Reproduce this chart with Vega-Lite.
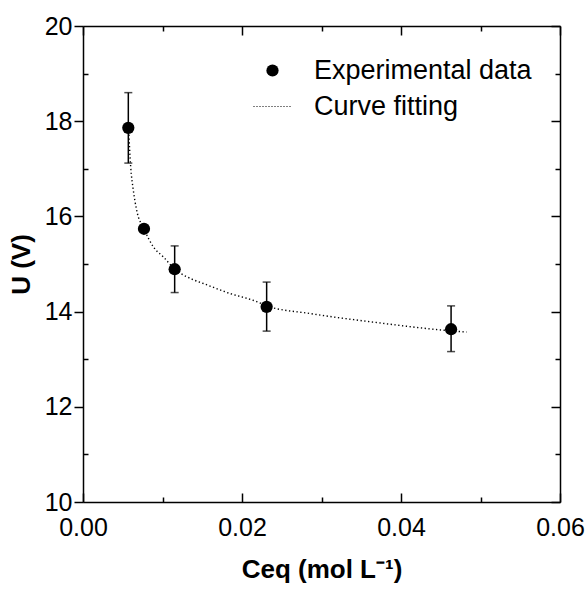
{
  "$schema": "https://vega.github.io/schema/vega-lite/v6.json",
  "width": 477,
  "height": 476,
  "autosize": {"type": "none"},
  "padding": {"left": 83, "top": 26, "right": 26, "bottom": 87},
  "background": "white",
  "config": {
    "view": {"stroke": null},
    "font": "Liberation Sans",
    "axis": {"grid": false, "labelFlush": false, "labelOverlap": false, "domainColor": "black", "domainWidth": 1.5, "tickColor": "black", "tickWidth": 1.5, "labelColor": "black", "labelFont": "Liberation Sans", "labelFontSize": 25, "titleColor": "black", "titleFont": "Liberation Sans", "titleFontWeight": "bold", "titleFontSize": 26}
  },
  "datasets": {
    "curve": [
      {"c": 0.00575, "u": 17.80, "series": "Curve fitting"},
      {"c": 0.0060, "u": 17.04, "series": "Curve fitting"},
      {"c": 0.00633, "u": 16.55, "series": "Curve fitting"},
      {"c": 0.00675, "u": 16.13, "series": "Curve fitting"},
      {"c": 0.00767, "u": 15.74, "series": "Curve fitting"},
      {"c": 0.00885, "u": 15.36, "series": "Curve fitting"},
      {"c": 0.0101, "u": 15.15, "series": "Curve fitting"},
      {"c": 0.01157, "u": 14.89, "series": "Curve fitting"},
      {"c": 0.01387, "u": 14.67, "series": "Curve fitting"},
      {"c": 0.01514, "u": 14.59, "series": "Curve fitting"},
      {"c": 0.01849, "u": 14.38, "series": "Curve fitting"},
      {"c": 0.02185, "u": 14.21, "series": "Curve fitting"},
      {"c": 0.0231, "u": 14.12, "series": "Curve fitting"},
      {"c": 0.02855, "u": 13.96, "series": "Curve fitting"},
      {"c": 0.03694, "u": 13.77, "series": "Curve fitting"},
      {"c": 0.04532, "u": 13.61, "series": "Curve fitting"},
      {"c": 0.04826, "u": 13.57, "series": "Curve fitting"}
    ],
    "points": [
      {"c": 0.0057, "u": 17.86, "lo": 17.12, "hi": 18.60, "series": "Experimental data"},
      {"c": 0.00767, "u": 15.74, "lo": 15.69, "hi": 15.79, "series": "Experimental data"},
      {"c": 0.01153, "u": 14.89, "lo": 14.40, "hi": 15.38, "series": "Experimental data"},
      {"c": 0.0231, "u": 14.10, "lo": 13.59, "hi": 14.62, "series": "Experimental data"},
      {"c": 0.0463, "u": 13.63, "lo": 13.16, "hi": 14.12, "series": "Experimental data"}
    ]
  },
  "resolve": {"axis": {"x": "independent", "y": "independent"}},
  "layer": [
    {
      "data": {"name": "curve"},
      "mark": {"type": "line", "interpolate": "monotone", "strokeDash": [1.3, 2.5], "strokeWidth": 1.4, "color": "black"},
      "encoding": {
        "x": {"field": "c", "type": "quantitative", "scale": {"domain": [0, 0.06], "nice": false, "zero": false},
              "axis": {"orient": "bottom", "values": [0, 0.02, 0.04, 0.06], "format": ".2f", "tickSize": -9, "labelPadding": 22, "title": "Ceq (mol L⁻¹)", "titlePadding": 16}},
        "y": {"field": "u", "type": "quantitative", "scale": {"domain": [10, 20], "nice": false, "zero": false},
              "axis": {"orient": "left", "values": [10, 12, 14, 16, 18, 20], "format": "d", "tickSize": 9, "labelPadding": 2, "title": "U (V)", "titlePadding": 10}},
        "color": {"field": "series", "type": "nominal",
                  "scale": {"domain": ["Experimental data", "Curve fitting"], "range": ["black", "black"]},
                  "legend": {"title": null, "orient": "none", "legendX": 176, "legendY": 31, "padding": 0, "labelFont": "Liberation Sans", "labelFontSize": 27, "labelColor": "black", "symbolSize": 1444, "rowPadding": 8, "labelOffset": 28, "labelLimit": 400,
                             "encode": {"symbols": {"update": {
                               "shape": {"signal": "datum.value === 'Curve fitting' ? 'stroke' : 'circle'"},
                               "fill": {"signal": "datum.value === 'Curve fitting' ? 'transparent' : 'black'"},
                               "stroke": {"value": "black"},
                               "strokeDash": {"signal": "datum.value === 'Curve fitting' ? [1, 2] : [1, 0]"},
                               "strokeWidth": {"signal": "datum.value === 'Curve fitting' ? 1 : 0"},
                               "size": {"signal": "datum.value === 'Curve fitting' ? 1444 : 150"},
                               "opacity": {"value": 1}
                             }}}}}
      }
    },
    {
      "data": {"name": "points"},
      "mark": {"type": "rule", "color": "black", "strokeWidth": 1.5},
      "encoding": {
        "x": {"field": "c", "type": "quantitative",
              "axis": {"orient": "bottom", "values": [0.01, 0.03, 0.05], "tickSize": -5, "labels": false, "domain": false, "title": null}},
        "y": {"field": "lo", "type": "quantitative",
              "axis": {"orient": "left", "values": [11, 13, 15, 17, 19], "tickSize": -5, "labels": false, "domain": false, "title": null}},
        "y2": {"field": "hi"}
      }
    },
    {
      "data": {"name": "points"},
      "mark": {"type": "tick", "orient": "horizontal", "color": "black", "size": 8, "thickness": 1.5},
      "encoding": {
        "x": {"field": "c", "type": "quantitative",
              "axis": {"orient": "top", "values": [0, 0.02, 0.04, 0.06], "tickSize": -9, "labels": false, "title": null}},
        "y": {"field": "hi", "type": "quantitative",
              "axis": {"orient": "right", "values": [10, 12, 14, 16, 18, 20], "tickSize": -9, "labels": false, "title": null}}
      }
    },
    {
      "data": {"name": "points"},
      "mark": {"type": "tick", "orient": "horizontal", "color": "black", "size": 8, "thickness": 1.5},
      "encoding": {
        "x": {"field": "c", "type": "quantitative",
              "axis": {"orient": "top", "values": [0.01, 0.03, 0.05], "tickSize": -5, "labels": false, "domain": false, "title": null}},
        "y": {"field": "lo", "type": "quantitative",
              "axis": {"orient": "right", "values": [11, 13, 15, 17, 19], "tickSize": -5, "labels": false, "domain": false, "title": null}}
      }
    },
    {
      "data": {"name": "points"},
      "mark": {"type": "point", "filled": true, "size": 150, "opacity": 1},
      "encoding": {
        "x": {"field": "c", "type": "quantitative", "axis": null},
        "y": {"field": "u", "type": "quantitative", "axis": null},
        "color": {"field": "series", "type": "nominal"}
      }
    }
  ]
}
